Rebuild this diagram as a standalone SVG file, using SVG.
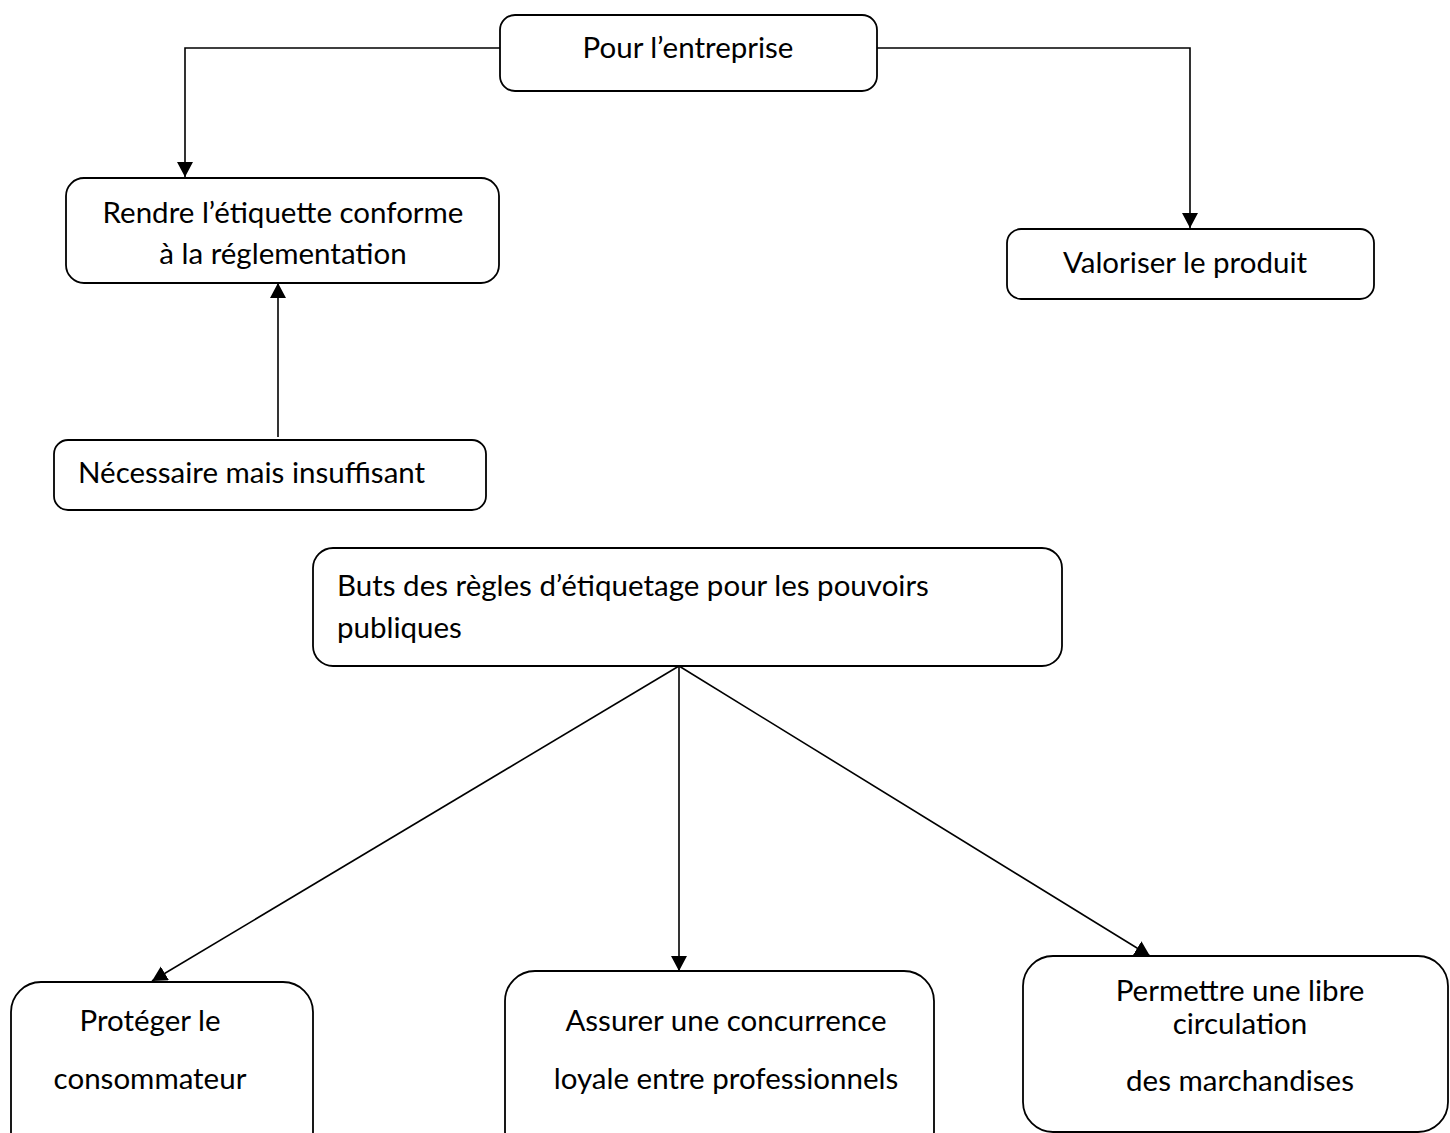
<svg xmlns="http://www.w3.org/2000/svg" width="1450" height="1133" viewBox="0 0 1450 1133">
<style>
.box{fill:#fff;stroke:#000;stroke-width:1.8}
.t{font-family:Lato,"Open Sans","Liberation Sans",sans-serif;font-size:29.5px;fill:#000}
.c{fill:none;stroke:#000;stroke-width:1.6}
</style>
<defs>
<marker id="ah" markerUnits="userSpaceOnUse" markerWidth="18" markerHeight="18" refX="15" refY="8" orient="auto">
<path d="M0,0 L15,8 L0,16 Z" fill="#000"/>
</marker>
</defs>
<rect width="1450" height="1133" fill="#fff"/>
<g id="connectors">
<path class="c" d="M500,48 H185 V177" marker-end="url(#ah)"/>
<path class="c" d="M877,48 H1190 V228" marker-end="url(#ah)"/>
<path class="c" d="M278,437 V283" marker-end="url(#ah)"/>
<path class="c" d="M679,666 L152,981" marker-end="url(#ah)"/>
<path class="c" d="M679,666 V971" marker-end="url(#ah)"/>
<path class="c" d="M679,666 L1150,956" marker-end="url(#ah)"/>
</g>
<g id="n-entreprise">
<rect class="box" x="500" y="15" width="377" height="76" rx="15"/>
<text class="t" x="688" y="58" text-anchor="middle">Pour l’entreprise</text>
</g>
<g id="n-rendre">
<rect class="box" x="66" y="178" width="433" height="105" rx="18"/>
<text class="t" x="283" y="223" text-anchor="middle">Rendre l’étiquette conforme</text>
<text class="t" x="283" y="264" text-anchor="middle">à la réglementation</text>
</g>
<g id="n-valoriser">
<rect class="box" x="1007" y="229" width="367" height="70" rx="14"/>
<text class="t" x="1185" y="273" text-anchor="middle">Valoriser le produit</text>
</g>
<g id="n-necessaire">
<rect class="box" x="54" y="440" width="432" height="70" rx="14"/>
<text class="t" x="78" y="483">Nécessaire mais insuffisant</text>
</g>
<g id="n-buts">
<rect class="box" x="313" y="548" width="749" height="118" rx="20"/>
<text class="t" x="337" y="596">Buts des règles d’étiquetage pour les pouvoirs</text>
<text class="t" x="337" y="638">publiques</text>
</g>
<g id="n-proteger">
<rect class="box" x="11" y="982" width="302" height="180" rx="30"/>
<text class="t" x="150" y="1031" text-anchor="middle">Protéger le</text>
<text class="t" x="150" y="1089" text-anchor="middle">consommateur</text>
</g>
<g id="n-assurer">
<rect class="box" x="505" y="971" width="429" height="190" rx="30"/>
<text class="t" x="726" y="1031" text-anchor="middle">Assurer une concurrence</text>
<text class="t" x="726" y="1089" text-anchor="middle">loyale entre professionnels</text>
</g>
<g id="n-permettre">
<rect class="box" x="1023" y="956" width="425" height="176" rx="30"/>
<text class="t" x="1240" y="1001" text-anchor="middle">Permettre une libre</text>
<text class="t" x="1240" y="1034" text-anchor="middle">circulation</text>
<text class="t" x="1240" y="1091" text-anchor="middle">des marchandises</text>
</g>
</svg>
